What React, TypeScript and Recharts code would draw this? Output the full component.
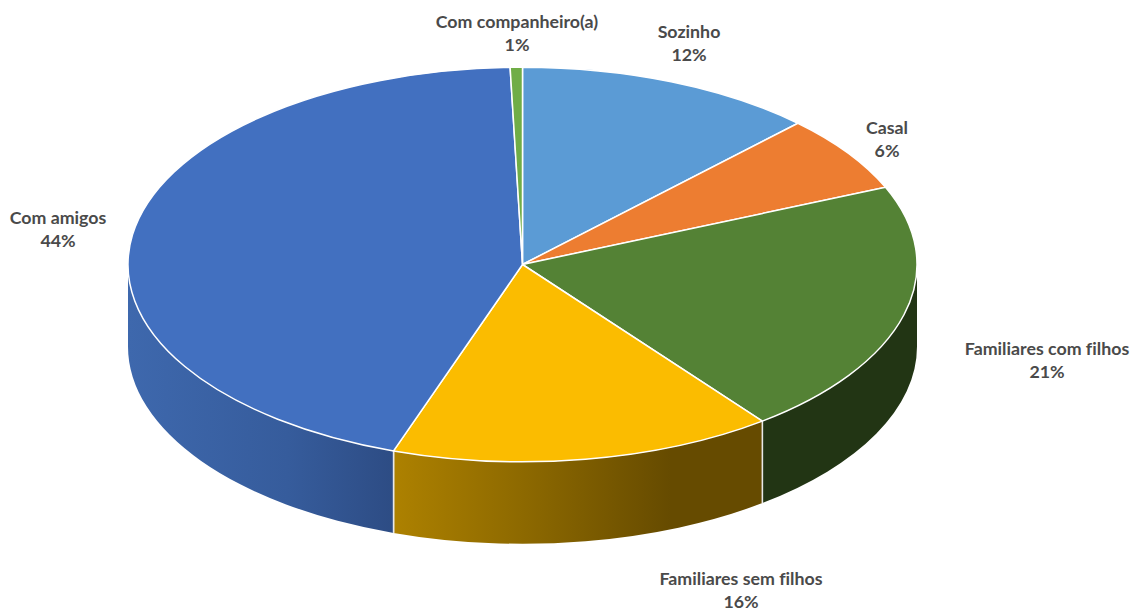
import React from 'react';
import { PieChart, Pie, Cell } from 'recharts';

const categories = ['Sozinho', 'Casal', 'Familiares com filhos', 'Familiares sem filhos', 'Com amigos', 'Com companheiro(a)'];
const shares = [12.3, 6.3, 21.0, 15.7, 44.2, 0.5];
const topColors = ['#5b9bd5', '#ed7d31', '#548235', '#fbbc00', '#4270c0', '#70ad47'];
const wallFills = ['#3a6a96', '#a5551c', '#223514', 'url(#wallYellow)', 'url(#wallBlue)', '#4e7a31'];

const pieData = categories.map((name, i) => ({ name, value: shares[i] }));

// label centres, one per slice
const labelX = [689, 887, 1047, 741, 58, 517];
const labelY = [43, 139, 360, 590, 229, 33];

const CX = 522.5;
const CY = 264.5;
const RADIUS = 394.5;
const SQUASH = 0.5;
const DEPTH = 82;

const RAD = Math.PI / 180;

function rimPoint(cx: number, cy: number, r: number, deg: number) {
  return [cx + r * Math.cos(deg * RAD), cy - r * SQUASH * Math.sin(deg * RAD)];
}

// flat top of a slice, the circle tilted into an ellipse
function TopSlice(props: any) {
  const { cx, cy, outerRadius: r, startAngle, endAngle, fill } = props;
  const [x0, y0] = rimPoint(cx, cy, r, startAngle);
  const [x1, y1] = rimPoint(cx, cy, r, endAngle);
  const large = Math.abs(startAngle - endAngle) > 180 ? 1 : 0;
  const d = `M${cx},${cy} L${x0},${y0} A${r},${r * SQUASH} 0 ${large} 1 ${x1},${y1} Z`;
  return <path d={d} fill={fill} stroke="#ffffff" strokeWidth={1.5} strokeLinejoin="round" />;
}

// side wall, only the part of the rim facing the viewer (lower half)
function WallSlice(props: any) {
  const { cx, cy, outerRadius: r, startAngle, endAngle, fill } = props;
  const from = Math.min(startAngle, 0);
  const to = Math.max(endAngle, -180);
  if (from <= to) return <g />;
  const [x0, y0] = rimPoint(cx, cy, r, from);
  const [x1, y1] = rimPoint(cx, cy, r, to);
  const ry = r * SQUASH;
  const d = `M${x0},${y0} A${r},${ry} 0 0 1 ${x1},${y1} L${x1},${y1 + DEPTH} A${r},${ry} 0 0 0 ${x0},${y0 + DEPTH} Z`;
  return (
    <g>
      <path d={d} fill={fill} />
      {from < 0 && <line x1={x0} y1={y0} x2={x0} y2={y0 + DEPTH} stroke="#e8e8e8" strokeWidth={1.5} />}
      {to > -180 && <line x1={x1} y1={y1} x2={x1} y2={y1 + DEPTH} stroke="#e8e8e8" strokeWidth={1.5} />}
    </g>
  );
}

function SliceLabel(props: any) {
  const { index, name, value } = props;
  return (
    <text
      x={labelX[index]}
      y={labelY[index]}
      textAnchor="middle"
      fontFamily="Lato, sans-serif"
      fontWeight={700}
      fontSize={17.8}
      fill="#4a4a4a"
      style={{ fontVariantLigatures: 'none' }}
    >
      <tspan x={labelX[index]} dy={-5}>{name}</tspan>
      <tspan x={labelX[index]} dy={23}>{Math.round(value)}%</tspan>
    </text>
  );
}

export default function App() {
  return (
    <div style={{ position: 'fixed', left: 0, top: 0, width: 1134, height: 612, background: '#ffffff' }}>
      <PieChart width={1134} height={612} margin={{ top: 0, right: 0, bottom: 0, left: 0 }}>
        <defs>
          <linearGradient id="wallBlue" gradientUnits="userSpaceOnUse" x1={128} y1={0} x2={394} y2={0}>
            <stop offset="0%" stopColor="#3e68ad" />
            <stop offset="60%" stopColor="#365c9c" />
            <stop offset="100%" stopColor="#2d4c84" />
          </linearGradient>
          <linearGradient id="wallYellow" gradientUnits="userSpaceOnUse" x1={394} y1={0} x2={763} y2={0}>
            <stop offset="0%" stopColor="#ad8100" />
            <stop offset="35%" stopColor="#8d6900" />
            <stop offset="75%" stopColor="#664b00" />
            <stop offset="100%" stopColor="#664b00" />
          </linearGradient>
        </defs>
        <Pie
          data={pieData}
          dataKey="value"
          nameKey="name"
          cx={CX}
          cy={CY}
          outerRadius={RADIUS}
          startAngle={90}
          endAngle={-270}
          shape={WallSlice}
          label={false}
          labelLine={false}
          isAnimationActive={false}
        >
          {wallFills.map((fill, i) => (
            <Cell key={i} fill={fill} />
          ))}
        </Pie>
        <Pie
          data={pieData}
          dataKey="value"
          nameKey="name"
          cx={CX}
          cy={CY}
          outerRadius={RADIUS}
          startAngle={90}
          endAngle={-270}
          shape={TopSlice}
          label={SliceLabel}
          labelLine={false}
          isAnimationActive={false}
        >
          {topColors.map((fill, i) => (
            <Cell key={i} fill={fill} />
          ))}
        </Pie>
      </PieChart>
    </div>
  );
}
